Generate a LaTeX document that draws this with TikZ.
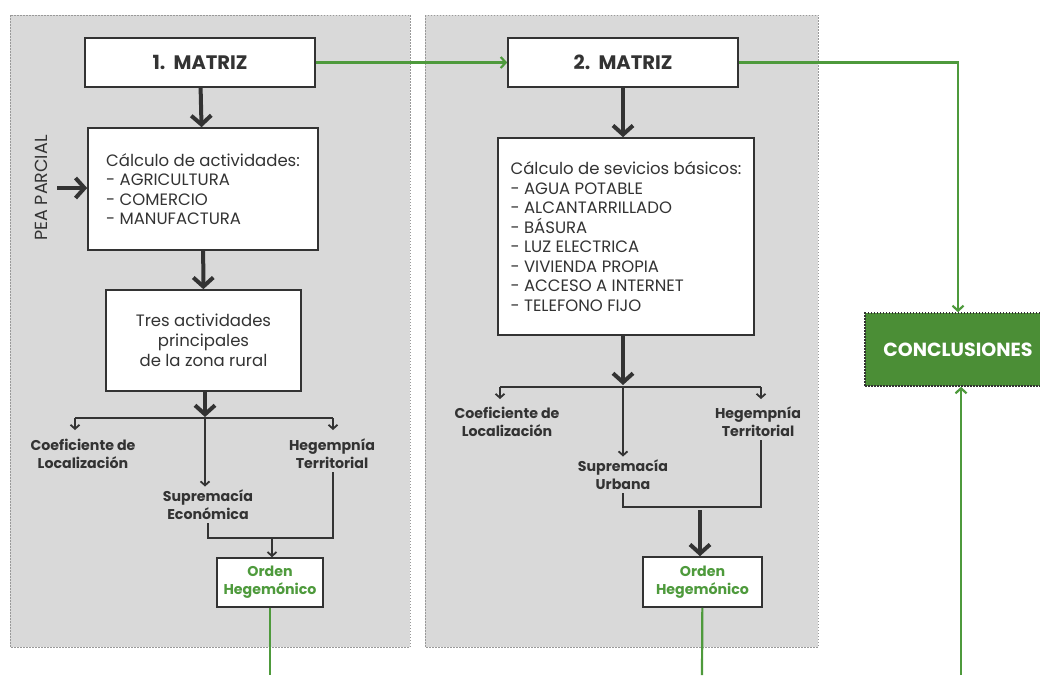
\documentclass[tikz,border=0pt]{standalone}
\usepackage{fontspec}
\setmainfont{Poppins}
\usetikzlibrary{arrows.meta,positioning,calc}
\definecolor{panelgray}{HTML}{D9D9D9}
\definecolor{dotgray}{HTML}{999999}
\definecolor{darkline}{HTML}{333333}
\definecolor{leafgreen}{HTML}{4E9A3C}
\definecolor{conclgreen}{HTML}{4B8E36}

\begin{document}
\begin{tikzpicture}[x=1pt,y=-1pt,
  panel/.style={fill=panelgray,draw=dotgray,line width=1pt,dash pattern=on 1.5pt off 1.5pt},
  box/.style={draw=darkline,line width=1.6pt,fill=white,text=darkline,inner sep=0pt},
  matrizbox/.style={box,minimum width=230,minimum height=49,font=\fontsize{19.5}{22}\selectfont\bfseries},
  listbox/.style={box,align=left,font=\fontsize{16.5}{19.5}\selectfont},
  label/.style={align=center,text=darkline,font=\fontsize{14.2}{18}\selectfont\bfseries},
  ordenbox/.style={box,align=center,text=leafgreen,font=\fontsize{14.2}{18}\selectfont\bfseries},
  bigarrow/.style={draw=darkline,line width=4pt,-{Straight Barb[length=9pt,width=20pt]}},
  smallarrow/.style={draw=darkline,line width=1.8pt,-{Straight Barb[length=4pt,width=9pt]}},
  plainline/.style={draw=darkline,line width=1.8pt},
  greenarrow/.style={draw=leafgreen,line width=2.2pt,-{Straight Barb[length=5pt,width=11pt]}},
  greenline/.style={draw=leafgreen,line width=2.2pt}]
\useasboundingbox (0,0) rectangle (1040,675);
\clip (0,0) rectangle (1040,675);
\fill[white] (0,0) rectangle (1040,675);
\draw[panel] (10,15) rectangle (410,647);
\draw[panel] (425,15) rectangle (818,647);

\node[matrizbox] (m1) at (200,62.5) {1.\ \ MATRIZ};
\node[listbox,minimum width=230,minimum height=122] (calc1) at (203,189)
  {Cálculo de actividades:\\- AGRICULTURA\\- COMERCIO\\- MANUFACTURA};
\node[rotate=90,text=darkline,font=\fontsize{17.5}{20}\selectfont] (pea) at (41,188) {PEA PARCIAL};
\coordinate (peain) at (57,188);
\node[box,align=center,minimum width=195,minimum height=101,font=\fontsize{16.5}{20}\selectfont] (tres) at (203.5,340.5)
  {Tres actividades\\principales\\de la zona rural};
\coordinate (split1) at (205,418);
\coordinate (left1) at (75,418);
\coordinate (right1) at (333,418);
\node[label] (coef1) at (83,454) {Coeficiente de\\Localización};
\node[label] (heg1) at (332,454) {Hegempnía\\Territorial};
\node[label] (sup1) at (208,505) {Supremacía\\Económica};
\coordinate (join1) at (272,538);
\node[ordenbox,minimum width=106,minimum height=49] (orden1) at (270,582.5) {Orden\\Hegemónico};
\coordinate (out1) at (270,675);

\node[matrizbox] (m2) at (623,62.5) {2.\ \ MATRIZ};
\node[listbox,minimum width=256,minimum height=197] (calc2) at (626,236.5)
  {Cálculo de sevicios básicos:\\- AGUA POTABLE\\- ALCANTARRILLADO\\- BÁSURA\\- LUZ ELECTRICA\\- VIVIENDA PROPIA\\- ACCESO A INTERNET\\- TELEFONO FIJO};
\coordinate (split2) at (623,387);
\coordinate (left2) at (500,387);
\coordinate (right2) at (761,387);
\node[label] (coef2) at (507,422) {Coeficiente de\\Localización};
\node[label] (heg2) at (758,422) {Hegempnía\\Territorial};
\node[label] (sup2) at (623,475) {Supremacía\\Urbana};
\coordinate (join2) at (700,507);
\node[ordenbox,minimum width=119,minimum height=50] (orden2) at (702.5,582) {Orden\\Hegemónico};
\coordinate (out2) at (702,675);

\node[fill=conclgreen,draw=darkline,line width=1.6pt,dash pattern=on 1.5pt off 1.5pt,minimum width=186,minimum height=73,text=white,font=\fontsize{19}{22}\selectfont\bfseries] (concl) at (958,349.5) {CONCLUSIONES};
\coordinate (turn) at (958,62);
\coordinate (out3) at (961,675);

\draw[bigarrow] (m1) -- (calc1);
\draw[bigarrow] (peain) -- (calc1.west |- peain);
\draw[bigarrow] (calc1) -- (tres);
\draw[bigarrow] (tres.south -| split1) -- ($(split1)+(0,-1)$);
\draw[plainline] (left1) -- (right1);
\draw[smallarrow] (left1) -- ++(0,12);
\draw[smallarrow] (right1) -- ++(0,12);
\draw[smallarrow] (split1) -- (split1 |- sup1.north);
\draw[plainline] (sup1.south) |- (join1) -| (heg1.south -| right1);
\draw[smallarrow] (join1) -- (join1 |- orden1.north);
\draw[greenline] (orden1) -- (out1);

\draw[bigarrow] (m2.south -| split2) -- (calc2.north -| split2);
\draw[bigarrow] (calc2.south -| split2) -- ($(split2)+(0,-2)$);
\draw[plainline] (left2) -- (right2);
\draw[smallarrow] (left2) -- ++(0,12);
\draw[smallarrow] (right2) -- ++(0,12);
\draw[smallarrow] (split2) -- (split2 |- sup2.north);
\draw[plainline] (sup2.south) |- (join2 -| right2) -- (heg2.south -| right2);
\draw[bigarrow] ($(join2)+(0,3)$) -- (join2 |- orden2.north);
\draw[greenline] (orden2) -- (out2);

\draw[greenarrow] (m1) -- (m2);
\draw[greenarrow] (m2) -| (concl.north -| turn);
\draw[greenarrow] (out3) -- (out3 |- concl.south);
\end{tikzpicture}
\end{document}
